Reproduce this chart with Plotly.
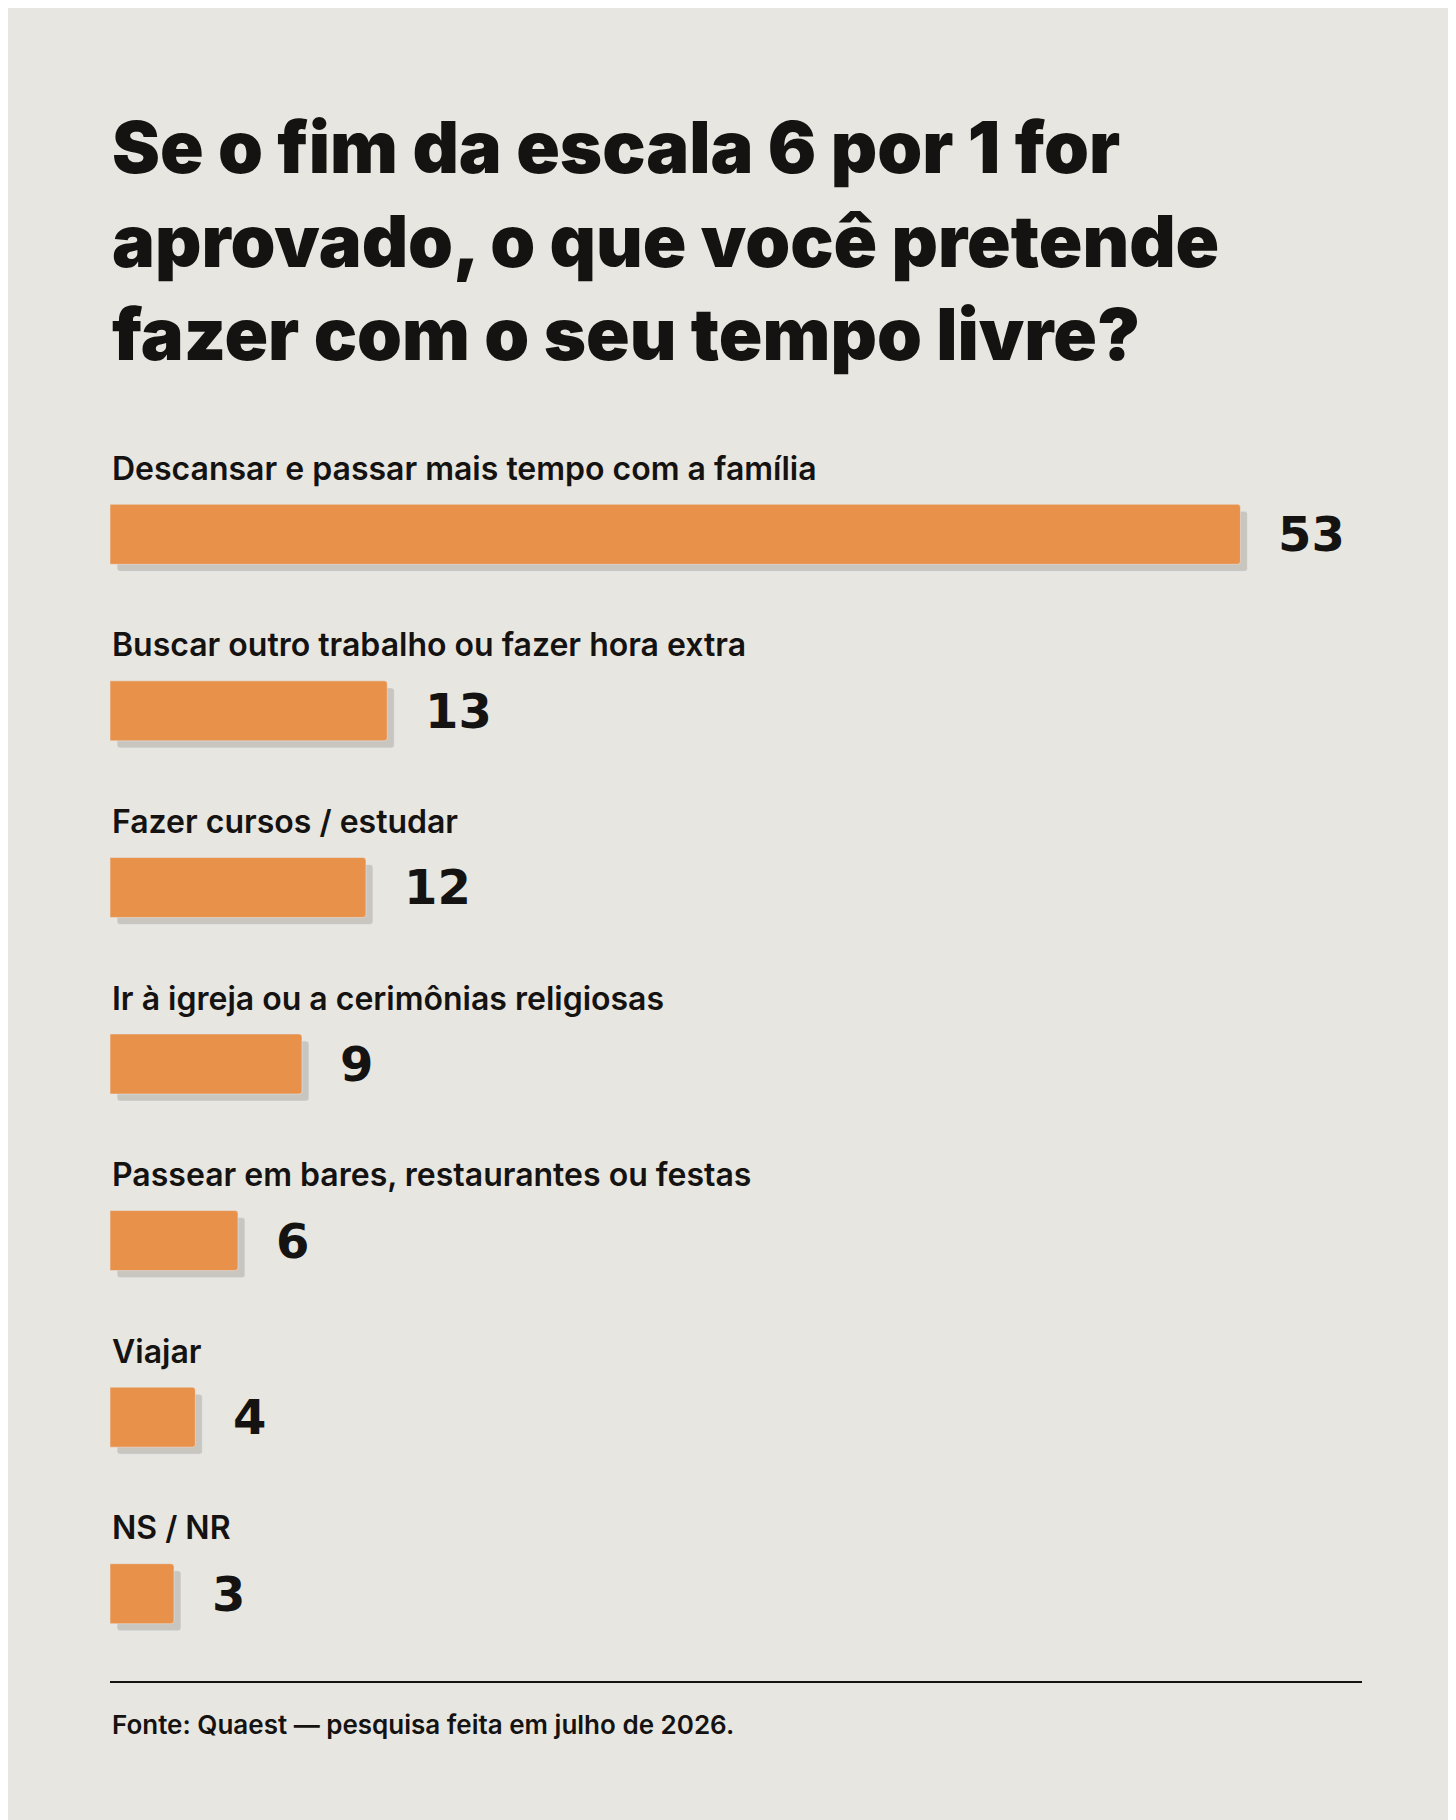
import plotly.graph_objects as go

categories = [
    "Descansar e passar mais tempo com a família",
    "Buscar outro trabalho ou fazer hora extra",
    "Fazer cursos / estudar",
    "Ir à igreja ou a cerimônias religiosas",
    "Passear em bares, restaurantes ou festas",
    "Viajar",
    "NS / NR",
]
values = [53, 13, 12, 9, 6, 4, 3]

BG = "#e8e6e0"
ORANGE = "#e8914a"
SHADOW = "#c9c6c0"
INK = "#151311"

pos = list(range(len(categories)))

fig = go.Figure()
# shadow bars, nudged right and down
fig.add_trace(go.Bar(
    x=values, y=[p + 0.04 for p in pos], base=0.33, orientation="h",
    width=0.34, marker=dict(color=SHADOW, cornerradius=3),
    hoverinfo="skip", showlegend=False,
))
fig.add_trace(go.Bar(
    x=values, y=pos, orientation="h", width=0.34,
    marker=dict(color=ORANGE, cornerradius=3),
    showlegend=False,
))

for p, c, v in zip(pos, categories, values):
    fig.add_annotation(x=0, y=p, text=c, xanchor="left", yanchor="middle",
                       yshift=66, showarrow=False,
                       font=dict(family="Inter", size=32, color=INK, weight=600))
    fig.add_annotation(x=v, y=p, text=str(v), xanchor="left", yanchor="middle",
                       xshift=36, showarrow=False,
                       font=dict(family="DejaVu Sans", size=48, color=INK, weight="bold"))

fig.add_annotation(
    xref="paper", yref="paper", x=0, y=1, yshift=345, xanchor="left", yanchor="top",
    text="Se o fim da escala 6 por 1 for<br>aprovado, o que você pretende<br>fazer com o seu tempo livre?",
    align="left", showarrow=False,
    font=dict(family="Inter", size=72, color=INK, weight=900),
)
fig.add_annotation(
    xref="paper", yref="paper", x=0, y=0, yshift=-42, xanchor="left", yanchor="middle",
    text="Fonte: Quaest — pesquisa feita em julho de 2026.", showarrow=False,
    font=dict(family="Inter", size=26, color=INK, weight=600),
)
fig.add_shape(type="line", xref="paper", yref="paper", x0=0, x1=1, y0=0, y1=0,
              line=dict(color=INK, width=2))

fig.update_layout(
    width=1456, height=1820,
    paper_bgcolor=BG, plot_bgcolor=BG,
    margin=dict(l=102, r=102, t=438, b=146),
    barmode="overlay",
    xaxis=dict(range=[0, 58.7], visible=False, fixedrange=True),
    yaxis=dict(range=[6.5, -0.5], visible=False, fixedrange=True),
)

fig.write_html("out.html")
